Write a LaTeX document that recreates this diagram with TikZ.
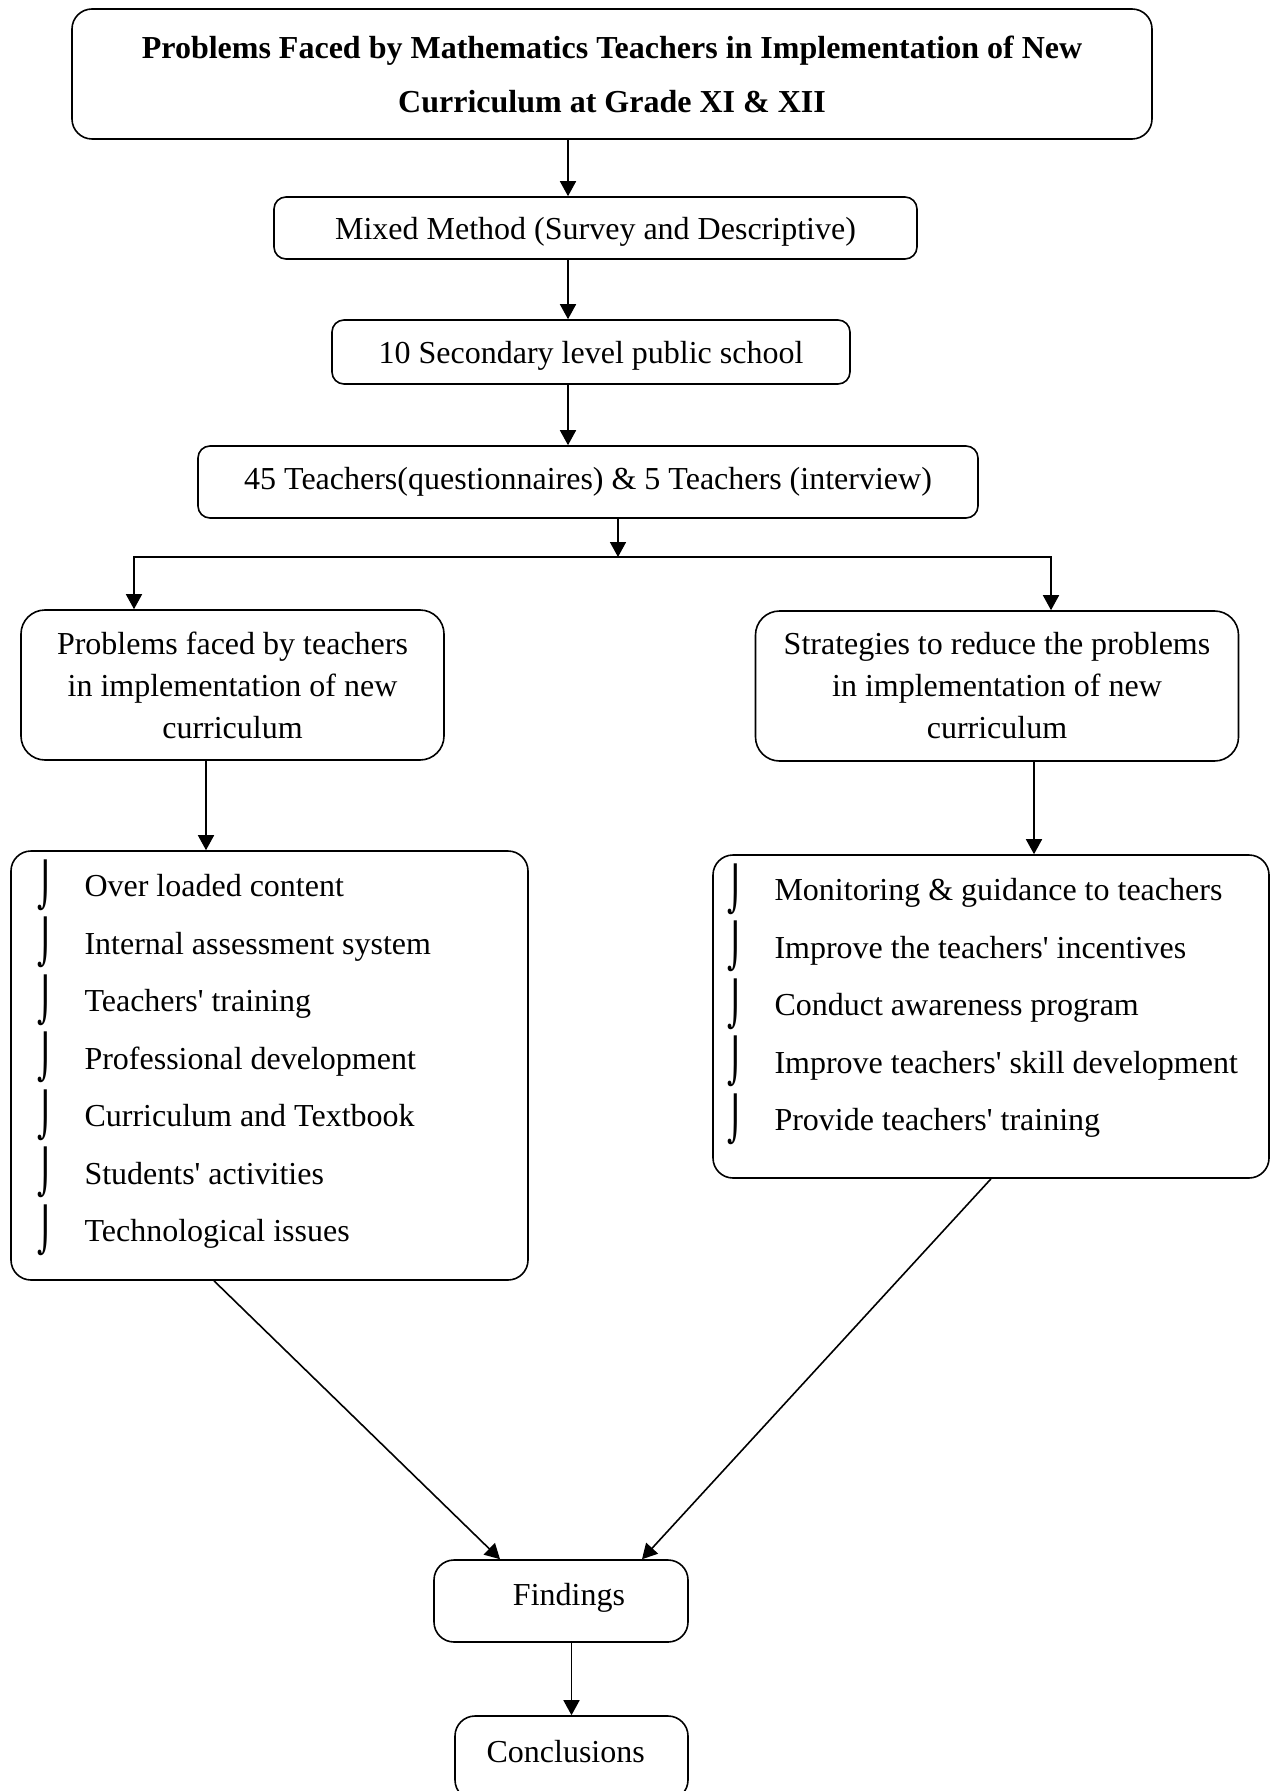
\documentclass[tikz,border=0pt]{standalone}
\usepackage{fontspec}
\setmainfont{Liberation Serif}
\newfontfamily\bulfont{DejaVu Sans}
\usetikzlibrary{arrows.meta,positioning}

\newcommand{\bul}{\makebox[23.75pt][l]{\rule{0pt}{20pt}\raisebox{-1.8pt}{\scalebox{1}[1.35]{\bulfont ⌡}}}}
\newcommand{\q}{\textquotesingle}
\newcommand{\itemlist}[4]{\parbox[c][#1][t]{#2}{\raggedright\leftskip=#3\relax
  \baselineskip=28.75pt\vspace*{2.75pt}#4}}

\begin{document}
\begin{tikzpicture}[x=0.5pt,y=-0.5pt]
    \tikzstyle{box}=[draw,line width=0.8pt,rounded corners=6pt,inner sep=0pt,align=center,font=\fontsize{16}{21}\selectfont]
    \tikzstyle{arr}=[line width=0.8pt,-{Triangle[length=7.5pt,width=8pt]}]
    \useasboundingbox (0,0) rectangle (1275,1791);

    % main chain
    \node[box,rounded corners=10pt,minimum width=540pt,minimum height=65pt,font=\fontsize{16}{27}\selectfont\bfseries] (title) at (612,74)
      {Problems Faced by Mathematics Teachers in Implementation of New\\Curriculum at Grade XI \& XII};
    \node[box,minimum width=321.5pt,minimum height=31pt,text height=15pt,text depth=3pt] (method) at (595.5,228) {Mixed Method (Survey and Descriptive)};
    \node[box,minimum width=259pt,minimum height=32pt,text height=15pt,text depth=3pt] (school) at (591,352) {10 Secondary level public school};
    \node[box,minimum width=390pt,minimum height=36pt] (teachers) at (588,482) {45 Teachers(questionnaires) \& 5 Teachers (interview)};

    % two branches
    \node[box,rounded corners=12pt,minimum width=211.5pt,minimum height=75pt] (problems) at (232.5,685)
      {Problems faced by teachers\\in implementation of new\\curriculum};
    \node[box,rounded corners=12pt,minimum width=241.5pt,minimum height=75pt] (strategies) at (997,686)
      {Strategies to reduce the problems\\in implementation of new\\curriculum};

    \node[box,rounded corners=10pt] (problist) at (269.5,1065.5) {\itemlist{214.5pt}{258.5pt}{13pt}{%
      \bul Over loaded content\\
      \bul Internal assessment system\\
      \bul Teachers\q{} training\\
      \bul Professional development\\
      \bul Curriculum and Textbook\\
      \bul Students\q{} activities\\
      \bul Technological issues}};
    \node[box,rounded corners=10pt] (stratlist) at (991,1016.5) {\itemlist{161.5pt}{278pt}{7pt}{%
      \bul Monitoring \& guidance to teachers\\
      \bul Improve the teachers\q{} incentives\\
      \bul Conduct awareness program\\
      \bul Improve teachers\q{} skill development\\
      \bul Provide teachers\q{} training}};

    \node[box,rounded corners=10pt,minimum width=127pt,minimum height=41pt,text height=10pt,text depth=6pt] (findings) at (561,1601) {\hspace*{8pt}Findings};
    \node[box,rounded corners=10pt,minimum width=116.5pt,minimum height=42pt,text height=10pt,text depth=6pt] (concl) at (571.5,1758) {Conclusions\hspace*{5.8pt}};

    % connectors
    \coordinate (spine) at (568,0);
    \coordinate (fork) at (618,557);
    \coordinate (forkL) at (134,557);
    \coordinate (forkR) at (1051,557);
    \coordinate (lcol) at (206,0);
    \coordinate (rcol) at (1034,0);

    \draw[arr] (title.south -| spine) -- (method.north -| spine);
    \draw[arr] (method.south -| spine) -- (school.north -| spine);
    \draw[arr] (school.south -| spine) -- (teachers.north -| spine);
    \draw[arr] (teachers.south -| fork) -- (fork);
    \draw[arr] (fork) -| (forkL |- problems.north);
    \draw[arr] (fork) -| (forkR |- strategies.north);
    \draw[arr] (problems.south -| lcol) -- (problist.north -| lcol);
    \draw[arr] (strategies.south -| rcol) -- (stratlist.north -| rcol);
    \draw[arr] ([xshift=-27.75pt]problist.south) -- ([xshift=-30.5pt]findings.north);
    \draw[arr] (stratlist.south) -- ([xshift=40.5pt]findings.north);
    \draw[arr] (findings.south -| concl) -- (concl.north);
\end{tikzpicture}
\end{document}
